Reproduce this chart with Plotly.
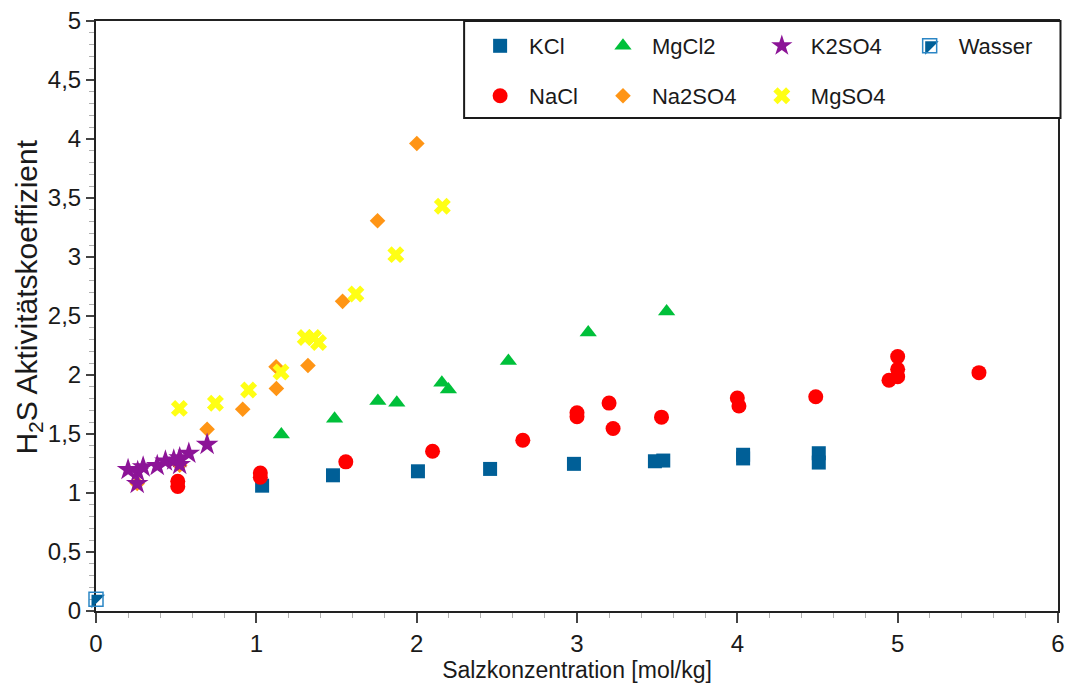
import plotly.graph_objects as go

# Salzkonzentration [mol/kg] and H2S activity coefficient for each salt
kcl_x = [1.036, 1.478, 2.008, 2.458, 2.981, 3.486, 3.538, 4.036, 4.036, 4.508, 4.508]
kcl_y = [1.062, 1.150, 1.184, 1.204, 1.247, 1.269, 1.275, 1.324, 1.293, 1.337, 1.258]

nacl_x = [0.51, 0.51, 1.025, 1.025, 1.558, 2.099, 2.662, 3.0, 3.0, 3.2, 3.225, 3.527,
          4.0, 4.01, 4.489, 4.946, 5.0, 5.0, 5.0, 5.507]
nacl_y = [1.099, 1.056, 1.17, 1.133, 1.264, 1.354, 1.447, 1.68, 1.646, 1.762, 1.547, 1.643,
          1.805, 1.737, 1.816, 1.955, 2.156, 2.048, 1.986, 2.02]

mgcl2_x = [1.156, 1.488, 1.758, 1.876, 2.157, 2.198, 2.572, 3.07, 3.559]
mgcl2_y = [1.496, 1.63, 1.78, 1.765, 1.935, 1.878, 2.119, 2.36, 2.539]

na2so4_x = [0.257, 0.522, 0.693, 0.915, 1.125, 1.123, 1.322, 1.538, 1.756, 2.001]
na2so4_y = [1.08, 1.235, 1.54, 1.71, 1.885, 2.07, 2.08, 2.624, 3.307, 3.962]

k2so4_x = [0.2, 0.26, 0.257, 0.294, 0.382, 0.433, 0.485, 0.522, 0.522, 0.579, 0.693]
k2so4_y = [1.198, 1.18, 1.08, 1.22, 1.232, 1.27, 1.278, 1.298, 1.241, 1.335, 1.411]

mgso4_x = [0.52, 0.745, 0.952, 1.154, 1.305, 1.357, 1.388, 1.621, 1.87, 2.16]
mgso4_y = [1.717, 1.76, 1.873, 2.026, 2.318, 2.318, 2.276, 2.686, 3.02, 3.43]

wasser_x = [0.0]
wasser_y = [0.1]

x_ticks = [0, 1, 2, 3, 4, 5, 6]
y_ticks = [0, 0.5, 1, 1.5, 2, 2.5, 3, 3.5, 4, 4.5, 5]

FONT = "Liberation Sans, Arial, sans-serif"
TEXT = "#1a1a1a"

# plot area in pixels (for legend placement in paper coordinates)
L, R, T, B = 95.5, 10.5, 21, 76
W, H = 1069, 687
PW, PH = W - L - R, H - T - B


def px_x(p):
    return (p - L) / PW


def px_y(p):
    return (H - B - p) / PH


SYM_OFF = 29  # distance from legend box left to symbol centre

series = [
    dict(name="KCl", x=kcl_x, y=kcl_y, symbol="square", color="#005f97", size=14, leg="legend", col=500, row=46),
    dict(name="NaCl", x=nacl_x, y=nacl_y, symbol="circle", color="#ff0000", size=15, leg="legend2", col=500, row=96),
    dict(name="MgCl2", x=mgcl2_x, y=mgcl2_y, symbol="triangle-up", color="#00c03a", size=15, leg="legend3", col=623, row=46),
    dict(name="Na2SO4", x=na2so4_x, y=na2so4_y, symbol="diamond", color="#ff9515", size=12, leg="legend4", col=623, row=96),
    dict(name="K2SO4", x=k2so4_x, y=k2so4_y, symbol="star", color="#8c1497", size=17, leg="legend5", col=782, row=46),
    dict(name="MgSO4", x=mgso4_x, y=mgso4_y, symbol="x", color="#ffff14", size=15, leg="legend6", col=782, row=96),
]

fig = go.Figure()
legends = {}
for s in series:
    fig.add_trace(go.Scatter(
        x=s["x"], y=s["y"], mode="markers", name=s["name"], legend=s["leg"],
        marker=dict(symbol=s["symbol"], color=s["color"], size=s["size"], line=dict(width=0)),
    ))
    legends[s["leg"]] = dict(x=px_x(s["col"] - SYM_OFF), y=px_y(s["row"]))

# Wasser: filled upper-left half under an open square outline
fig.add_trace(go.Scatter(
    x=wasser_x, y=wasser_y, mode="markers", name="\u00a0", legend="legend7", cliponaxis=False,
    marker=dict(symbol="triangle-nw", color="#005f97", size=15, line=dict(width=0)),
))
fig.add_trace(go.Scatter(
    x=wasser_x, y=wasser_y, mode="markers", name="Wasser", legend="legend8", cliponaxis=False,
    marker=dict(symbol="square-open", color="#2b86c5", size=14, line=dict(width=1.5, color="#2b86c5")),
))
legends["legend7"] = dict(x=px_x(930 - SYM_OFF), y=px_y(46))
legends["legend8"] = dict(x=px_x(930 - SYM_OFF), y=px_y(46))

legend_layout = {}
for key, pos in legends.items():
    legend_layout[key] = dict(
        x=pos["x"], y=pos["y"], xanchor="left", yanchor="middle",
        orientation="h", bgcolor="rgba(0,0,0,0)", borderwidth=0,
        itemwidth=48, font=dict(family=FONT, size=22, color=TEXT),
    )

fig.update_layout(
    width=W, height=H,
    margin=dict(l=L, r=R, t=T, b=B, autoexpand=False),
    paper_bgcolor="white", plot_bgcolor="white",
    separators=",.",
    showlegend=True,
    font=dict(family=FONT, size=22, color=TEXT),
    **legend_layout,
    shapes=[dict(
        type="rect", xref="paper", yref="paper",
        x0=px_x(464), x1=px_x(1061), y0=px_y(118), y1=1.0,
        line=dict(color="#1a1a1a", width=2), fillcolor="white", layer="above",
    )],
    annotations=[dict(
        text="H<sub>2</sub>S Aktivitätskoeffizient", textangle=-90,
        xref="paper", yref="paper", x=px_x(27), y=px_y(297),
        xanchor="center", yanchor="middle", showarrow=False,
        font=dict(family=FONT, size=30, color=TEXT),
    )],
)

axis_common = dict(
    showline=True, linecolor="#222222", linewidth=2, mirror=True,
    ticks="outside", tickcolor="#444444", tickwidth=1.5,
    showgrid=False, zeroline=False, layer="below traces",
    tickfont=dict(family=FONT, size=24, color=TEXT),
)

fig.update_xaxes(
    range=[0, 6], tickvals=x_ticks, ticklen=10,
    minor=dict(dtick=0.2, tick0=0, ticks="outside", ticklen=5, tickcolor="#b0b0b0", tickwidth=1),
    title=dict(text="Salzkonzentration [mol/kg]", standoff=6, font=dict(family=FONT, size=23, color=TEXT)),
    **axis_common,
)
fig.update_yaxes(
    range=[0, 5], tickvals=y_ticks, ticklen=8,
    minor=dict(dtick=0.1, tick0=0, ticks="outside", ticklen=5, tickcolor="#b0b0b0", tickwidth=1),
    **axis_common,
)

fig.write_html("out.html")
